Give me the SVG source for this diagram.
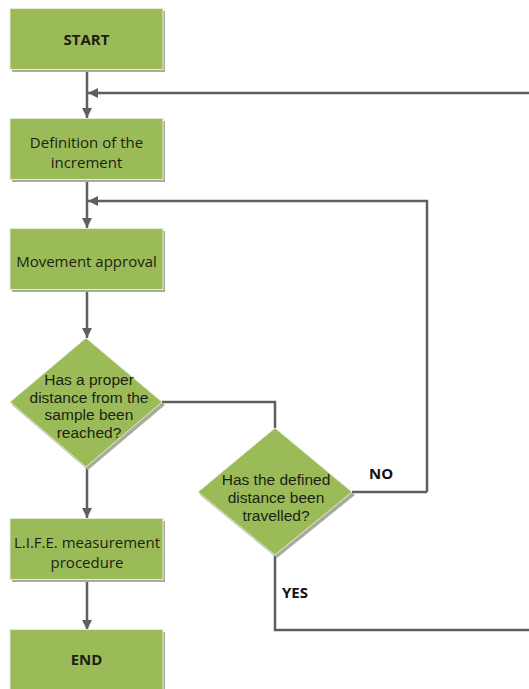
<svg xmlns="http://www.w3.org/2000/svg" width="529" height="689" viewBox="0 0 529 689">
<style>
.shadow{fill:#a8ad9b}
.shape{fill:#9bbb59;stroke:#e4ecd2;stroke-width:1}
.t{font-family:"Open Sans","Liberation Sans",sans-serif;font-size:15px;fill:#1c1f14;text-anchor:middle}
.d{font-family:"Liberation Sans",Arial,sans-serif;font-size:15.5px;fill:#1c1f14;text-anchor:middle}
.b{font-weight:bold}
.lbl{font-family:"Open Sans","Liberation Sans",sans-serif;font-size:15px;font-weight:bold;fill:#111}
.c{fill:none;stroke:#5f5f5f;stroke-width:2.5}
</style>
<defs>
<marker id="ah" viewBox="0 0 10 10" refX="10" refY="5" markerWidth="10" markerHeight="10" markerUnits="userSpaceOnUse" orient="auto">
<path d="M0,0 L10,5 L0,10 Z" fill="#5f5f5f"/>
</marker>
</defs>
<g id="connectors">
<path class="c" d="M87,70 V118" marker-end="url(#ah)"/>
<path class="c" d="M529,93 H88" marker-end="url(#ah)"/>
<path class="c" d="M87,180 V228" marker-end="url(#ah)"/>
<path class="c" d="M427,492 V201 H88" marker-end="url(#ah)"/>
<path class="c" d="M87,290 V338" marker-end="url(#ah)"/>
<path class="c" d="M162,402 H275 V428"/>
<path class="c" d="M87,467 V518" marker-end="url(#ah)"/>
<path class="c" d="M352,492 H427"/>
<path class="c" d="M275,555 V630 H529"/>
<path class="c" d="M87,580 V630" marker-end="url(#ah)"/>
<text class="lbl" x="369" y="479">NO</text>
<text class="lbl" x="282" y="598">YES</text>
</g>
<g id="start">
<rect class="shadow" x="12" y="11" width="153" height="61"/>
<rect class="shape" x="10" y="8.5" width="153" height="61"/>
<text class="t b" x="86.5" y="45">START</text>
</g>
<g id="definition">
<rect class="shadow" x="12" y="121" width="153" height="61"/>
<rect class="shape" x="10" y="118.5" width="153" height="61"/>
<text class="t" x="86.5" y="148">Definition of the</text>
<text class="t" x="86.5" y="168">increment</text>
</g>
<g id="movement">
<rect class="shadow" x="12" y="231" width="153" height="61"/>
<rect class="shape" x="10" y="228.5" width="153" height="61"/>
<text class="t" x="86.5" y="267">Movement approval</text>
</g>
<g id="decision1">
<polygon class="shadow" points="88,341 165,405 88,470 12,405"/>
<polygon class="shape" points="86,338 162,402 86,467 10,402"/>
<text class="d" x="89" y="385">Has a proper</text>
<text class="d" x="89" y="402.7">distance from the</text>
<text class="d" x="89" y="420.4">sample been</text>
<text class="d" x="89" y="438.1">reached?</text>
</g>
<g id="decision2">
<polygon class="shadow" points="277,431 355,495 277,558 200,495"/>
<polygon class="shape" points="275,428 352,492 275,555 198,492"/>
<text class="d" x="276" y="485">Has the defined</text>
<text class="d" x="276" y="503">distance been</text>
<text class="d" x="276" y="521">travelled?</text>
</g>
<g id="life">
<rect class="shadow" x="12" y="521" width="153" height="61"/>
<rect class="shape" x="10" y="518.5" width="153" height="61"/>
<text class="t" x="87" y="548">L.I.F.E. measurement</text>
<text class="t" x="87" y="568">procedure</text>
</g>
<g id="end">
<rect class="shadow" x="12" y="632" width="153" height="61"/>
<rect class="shape" x="10" y="629.5" width="153" height="61"/>
<text class="t b" x="86.5" y="665">END</text>
</g>
</svg>
